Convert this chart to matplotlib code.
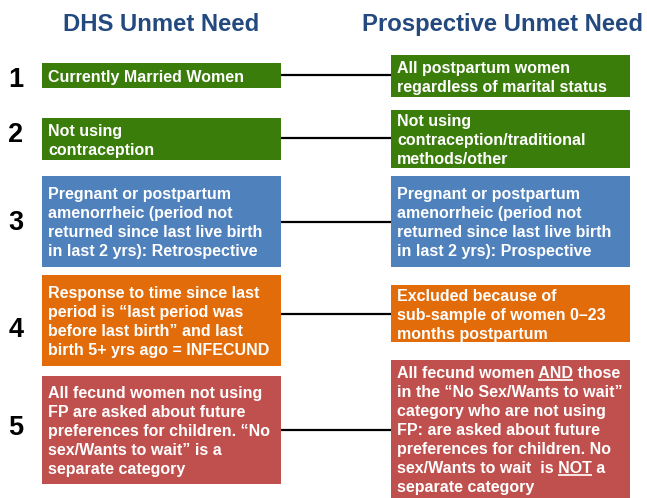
import matplotlib
matplotlib.use("Agg")
import matplotlib.pyplot as plt
from matplotlib.patches import Rectangle

# ---- content ----
titles = ["DHS Unmet Need", "Prospective Unmet Need"]
row_labels = ["1", "2", "3", "4", "5"]
left_texts = [
    ["Currently Married Women"],
    ["Not using", "contraception"],
    ["Pregnant or postpartum", "amenorrheic (period not",
     "returned since last live birth", "in last 2 yrs): Retrospective"],
    ["Response to time since last", "period is \u201clast period was",
     "before last birth\u201d and last", "birth 5+ yrs ago = INFECUND"],
    ["All fecund women not using", "FP are asked about future",
     "preferences for children. \u201cNo", "sex/Wants to wait\u201d is a",
     "separate category"],
]
right_texts = [
    ["All postpartum women", "regardless of marital status"],
    ["Not using", "contraception/traditional", "methods/other"],
    ["Pregnant or postpartum", "amenorrheic (period not",
     "returned since last live birth", "in last 2 yrs): Prospective"],
    ["Excluded because of", "sub-sample of women 0\u201323",
     "months postpartum"],
    ["All fecund women AND those", "in the \u201cNo Sex/Wants to wait\u201d",
     "category who are not using", "FP: are asked about future",
     "preferences for children. No", "sex/Wants to wait  is NOT a",
     "separate category"],
]
underlined = ["AND", "NOT"]
row_colors = ["#3B7D0B", "#3B7D0B", "#4F81BD", "#E36C0A", "#C0504D"]
title_color = "#23497E"

# ---- layout (pixels) ----
W, H = 647, 498
left_x0, left_x1 = 42, 281
right_x0, right_x1 = 391, 630
left_boxes = [(63, 88), (118, 160), (176, 267), (275, 366), (376, 484)]
right_boxes = [(55, 97), (110, 168), (176, 267), (285, 342), (360, 505)]
connector_y = [75, 138, 222, 314, 430]
label_y = [80, 135, 223, 330, 428]
right_top_align = [False, False, False, False, True]
LS = 19.0
FS = 11.5
FAM = ["Liberation Sans", "DejaVu Sans"]

fig = plt.figure(figsize=(W / 100, H / 100), dpi=100)
ax = fig.add_axes([0, 0, 1, 1])
ax.set_xlim(0, W)
ax.set_ylim(H, 0)
ax.axis("off")

renderer = fig.canvas.get_renderer()


def text_width_px(s):
    t = ax.text(0, 0, s, fontsize=FS, fontweight="bold", family=FAM)
    w = t.get_window_extent(renderer=renderer).width
    t.remove()
    return w


def draw_lines(lines, x, baselines):
    for line, yb in zip(lines, baselines):
        ax.text(x, yb, line, fontsize=FS, fontweight="bold", color="white",
                family=FAM, va="baseline", ha="left")
        for word in underlined:
            if word in line:
                idx = line.index(word) + len(word)
                end = text_width_px(line[:idx])
                start = end - text_width_px(word)
                ax.plot([x + start, x + end], [yb + 2, yb + 2],
                        color="white", lw=1.2, solid_capstyle="butt")


def block_baselines(n, top, bottom, top_align=False):
    if top_align:
        first = top + 18
    else:
        c = (top + bottom) / 2
        first = c - (n - 1) / 2 * LS + 6
    return [first + i * LS for i in range(n)]


# titles
ax.text(161, 24, titles[0], fontsize=17.2, fontweight="bold",
        color=title_color, family=FAM, ha="center", va="center")
ax.text(502, 24, titles[1], fontsize=17.2, fontweight="bold",
        color=title_color, family=FAM, ha="center", va="center")

for i in range(len(row_labels)):
    col = row_colors[i]
    lt, lb = left_boxes[i]
    rt, rb = right_boxes[i]
    ax.add_patch(Rectangle((left_x0, lt), left_x1 - left_x0, lb - lt,
                           facecolor=col, edgecolor="none"))
    ax.add_patch(Rectangle((right_x0, rt), right_x1 - right_x0, rb - rt,
                           facecolor=col, edgecolor="none"))
    ax.plot([left_x1, right_x0], [connector_y[i], connector_y[i]],
            color="black", lw=1.6, solid_capstyle="butt")
    ax.text(16, label_y[i], row_labels[i], fontsize=19.5, fontweight="bold",
            color="black", family=FAM, ha="center", va="center")
    draw_lines(left_texts[i], left_x0 + 6,
               block_baselines(len(left_texts[i]), lt, lb))
    draw_lines(right_texts[i], right_x0 + 6,
               block_baselines(len(right_texts[i]), rt, rb,
                               right_top_align[i]))

fig.savefig("out.png", dpi=100)
